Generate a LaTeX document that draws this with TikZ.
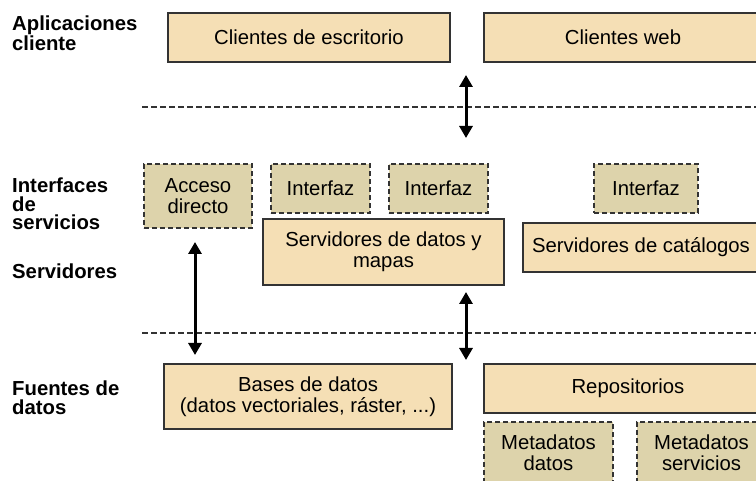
\documentclass[tikz,border=0pt]{standalone}
\usepackage{fontspec}
\setmainfont{Liberation Sans}
\usetikzlibrary{arrows.meta}
\definecolor{solidfill}{HTML}{F5DFB5}
\definecolor{dashfill}{HTML}{DDD3AB}
\definecolor{edge}{HTML}{333333}
\tikzset{
  solidbox/.style={draw=edge, fill=solidfill, line width=1.6pt, inner sep=0pt, align=center,
    font=\fontsize{20.3}{21}\selectfont},
  dashbox/.style={draw=edge, fill=dashfill, line width=1.6pt, dash pattern=on 5pt off 3pt,
    inner sep=0pt, align=center, font=\fontsize{20.3}{21}\selectfont},
  layerlabel/.style={anchor=west, align=left, inner sep=0pt,
    font=\fontsize{20.3}{18.5}\selectfont\bfseries},
  sep/.style={draw=edge, line width=1.3pt, dash pattern=on 6pt off 3pt},
  biarrow/.style={line width=3pt, {Triangle[length=12pt,width=13pt]}-{Triangle[length=12pt,width=13pt]}}
}
\begin{document}
\begin{tikzpicture}[x=1pt,y=-1pt]
\useasboundingbox (0,0) rectangle (756,481);
\clip (0,0) rectangle (756,481);
% layer labels
\node[layerlabel] (lapp) at (12,33.5) {Aplicaciones\\cliente};
\node[layerlabel] (lint) at (12,204) {Interfaces\\de\\servicios};
\node[layerlabel] (lserv) at (12,271) {Servidores};
\node[layerlabel] (lfue) at (12,397.5) {Fuentes de\\datos};
% separators
\coordinate (s1a) at (142,107); \coordinate (s1b) at (756,107);
\coordinate (s2a) at (142,333); \coordinate (s2b) at (756,333);
\draw[sep] (s1a) -- (s1b);
\draw[sep] (s2a) -- (s2b);
% client apps
\node[solidbox, minimum width=282pt, minimum height=49pt] (desk) at (309,37.5) {Clientes de escritorio};
\node[solidbox, minimum width=278pt, minimum height=49pt] (web) at (623,37.5) {Clientes web};
% interfaces
\node[dashbox, minimum width=108pt, minimum height=64pt] (acc) at (198,196) {Acceso\\directo};
\node[dashbox, minimum width=99pt, minimum height=49pt] (if1) at (320.5,188.5) {Interfaz};
\node[dashbox, minimum width=99pt, minimum height=49pt] (if2) at (438.5,188.5) {Interfaz};
\node[dashbox, minimum width=104pt, minimum height=49pt] (if3) at (646,188.5) {Interfaz};
% servers
\node[solidbox, minimum width=241pt, minimum height=66pt] (sdm) at (383.5,252) {Servidores de datos y\\mapas};
\node[solidbox, minimum width=236pt, minimum height=49pt] (scat) at (641,247.5) {Servidores de catálogos};
% data sources
\node[solidbox, minimum width=288pt, minimum height=65pt] (bd) at (308,396.5) {Bases de datos\\(datos vectoriales, ráster, ...)};
\node[solidbox, minimum width=288pt, minimum height=49pt] (rep) at (628,388.5) {Repositorios};
\node[dashbox, minimum width=129pt, minimum height=62pt] (md) at (548.5,453) {Metadatos\\datos};
\node[dashbox, minimum width=129pt, minimum height=62pt] (ms) at (701.5,453) {Metadatos\\servicios};
% arrows
\coordinate (a1t) at (466,75); \coordinate (a1b) at (466,138);
\coordinate (a2t) at (195,242); \coordinate (a2b) at (195,355);
\coordinate (a3t) at (466,292); \coordinate (a3b) at (466,360);
\draw[biarrow] (a1t) -- (a1b);
\draw[biarrow] (a2t) -- (a2b);
\draw[biarrow] (a3t) -- (a3b);
\end{tikzpicture}
\end{document}
